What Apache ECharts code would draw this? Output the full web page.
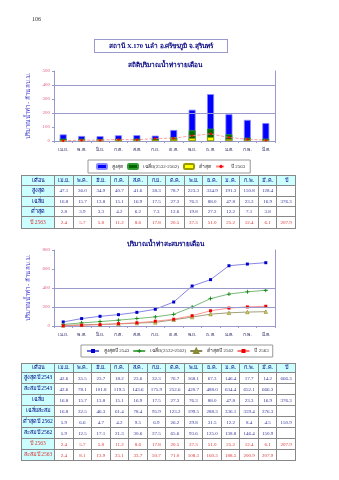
<!DOCTYPE html>
<html><head><meta charset="utf-8">
<script src="https://cdn.jsdelivr.net/npm/echarts@6/dist/echarts.min.js"></script>
<style>
html,body{margin:0;padding:0;background:#fff;width:339px;height:480px;overflow:hidden;font-family:"Liberation Serif","DejaVu Serif",serif;}
#chart{position:absolute;left:0;top:0;width:339px;height:480px;}
.abs{position:absolute;white-space:nowrap;}
table.t{position:absolute;left:21px;border-collapse:collapse;table-layout:fixed;width:274px;}
table.t td{border:1px solid #888;padding:0;text-align:center;font-size:5px;line-height:1;overflow:hidden;white-space:nowrap;color:#333399;}
table.t td.h{background:#ccffff;color:#000080;font-size:5.5px;}
table.t td.r{color:#dd3333;}
</style>
</head><body>
<div id="chart"></div>
<div class="abs" style="left:32px;top:16px;font-size:6px;color:#333;">106</div>
<div class="abs" style="left:94px;top:39px;width:132px;height:12px;border:1px solid #9999cc;text-align:center;font-size:6.5px;line-height:12px;font-weight:bold;color:#000080;">สถานี X.170 น.ลำ อ.ศรีขรภูมิ จ.สุรินทร์</div>
<table class="t" id="t1" style="top:175px;"></table>
<table class="t" id="t2" style="top:363px;"></table>
<script>
var months = ['เม.ย.','พ.ค.','มิ.ย.','ก.ค.','ส.ค.','ก.ย.','ต.ค.','พ.ย.','ธ.ค.','ม.ค.','ก.พ.','มี.ค.'];
var maxMonthly = [47.1,36.0,34.9,40.7,41.6,38.3,78.7,223.3,334.9,191.3,150.8,128.4];
var avgMonthly = [16.8,15.7,13.8,15.1,16.9,17.5,27.3,76.3,88.0,47.8,23.3,16.9];
var minMonthly = [2.8,3.9,3.3,4.2,6.2,7.3,12.6,19.8,27.2,12.2,7.1,3.8];
var y2563Monthly = [2.4,5.7,5.8,11.2,8.6,17.8,20.5,37.3,51.0,25.2,12.4,6.1];
var y2543Monthly = [42.6,35.5,23.7,18.2,23.6,32.3,76.7,168.1,67.3,146.4,17.7,14.2];
var cum2543 = [42.6,78.1,101.8,119.5,143.6,175.9,252.6,420.7,488.0,634.4,652.1,666.3];
var avgCum = [16.8,32.5,46.3,61.4,78.4,95.9,123.2,199.5,288.3,336.1,359.4,376.3];
var y2562Monthly = [5.9,6.6,4.7,4.2,9.5,6.9,26.2,29.8,31.5,12.2,8.4,4.5];
var cum2562 = [5.9,12.5,17.1,21.3,30.6,37.5,65.6,93.6,125.0,138.8,146.4,150.9];
var cum2563 = [2.4,8.1,13.9,25.1,33.7,50.7,71.0,108.3,160.3,188.5,200.9,207.9];
var totalAvg = 376.3, total2563 = 207.9, total2543 = 666.3, total2562 = 150.9;

function buildTable(id, rows, headH, rowHs){
  var html = '<colgroup><col style="width:33px">';
  for (var i=0;i<13;i++) html += '<col style="width:18.54px">';
  html += '</colgroup>';
  html += '<tr style="height:'+headH+'px"><td class="h">เดือน</td>';
  months.forEach(function(m){ html += '<td class="h">'+m+'</td>'; });
  html += '<td class="h">ปี</td></tr>';
  rows.forEach(function(r, k){
    var cls = r[3] ? ' r' : '';
    html += '<tr style="height:'+rowHs[k]+'px"><td class="h'+cls+'">'+r[0]+'</td>';
    r[1].forEach(function(v){ html += '<td class="'+cls+'">'+v.toFixed(1)+'</td>'; });
    html += '<td class="'+cls+'">'+(r[2]===''?'':r[2].toFixed(1))+'</td></tr>';
  });
  document.getElementById(id).innerHTML = html;
}
buildTable('t1', [
  ['สูงสุด', maxMonthly, ''],
  ['เฉลี่ย', avgMonthly, totalAvg],
  ['ต่ำสุด', minMonthly, ''],
  ['ปี 2563', y2563Monthly, total2563, true]
], 10, [10.5,10.5,9.5,12.5]);
buildTable('t2', [
  ['สูงสุดปี 2543', y2543Monthly, total2543],
  ['สะสมปี 2543', cum2543, ''],
  ['เฉลี่ย', avgMonthly, totalAvg],
  ['เฉลี่ยสะสม', avgCum, ''],
  ['ต่ำสุดปี 2562', y2562Monthly, total2562],
  ['สะสมปี 2562', cum2562, ''],
  ['ปี 2563', y2563Monthly, total2563, true],
  ['สะสมปี 2563', cum2563, '', true]
], 9, [11,11,11,11,11,11,11,11]);

var FF = '"Liberation Serif","DejaVu Serif",serif';
var gridLine = '#9999cc';
var plusPath = 'path://M4,0H6V4H10V6H6V10H4V6H0V4H4Z';
var legendNames = {'avgCum':'เฉลี่ย(2532-2562)', 'cum2563':'ปี 2563'};
function yAxisMain(g, max, interval){
  return {gridIndex:g, type:'value', min:0, max:max, interval:interval,
    axisLine:{show:true, lineStyle:{color:gridLine, width:1}},
    axisTick:{show:true, length:2, lineStyle:{color:gridLine}},
    axisLabel:{fontSize:5, color:'#e0607f', margin:4, fontFamily:FF},
    splitLine:{show:false},
    name:'ปริมาณน้ำท่า - ล้าน ลบ.ม.', nameLocation:'middle', nameGap:15, nameRotate:90,
    nameTextStyle:{fontSize:6, color:'#3333cc', fontFamily:FF}};
}
function yAxisRight(g, max){
  return {gridIndex:g, type:'value', min:0, max:max, position:'right',
    axisLine:{show:true, lineStyle:{color:gridLine, width:1}},
    axisTick:{show:false}, axisLabel:{show:false}, splitLine:{show:false}};
}
function xAxisCat(g){
  return {gridIndex:g, type:'category', data:months, boundaryGap:true,
    axisLine:{show:true, lineStyle:{color:gridLine, width:1}},
    axisTick:{show:true, length:2, lineStyle:{color:gridLine}},
    axisLabel:{fontSize:5, color:'#333366', margin:6, interval:0, fontFamily:FF}};
}
var mk = {silent:true, symbol:'none', label:{show:false}, lineStyle:{color:gridLine, type:'solid', width:1},
  data:[{yAxis:200},{yAxis:400}]};

var chart = echarts.init(document.getElementById('chart'), null, {renderer:'canvas'});
chart.setOption({
  animation:false,
  textStyle:{fontFamily:FF},
  title:[
    {text:'สถิติปริมาณน้ำท่ารายเดือน', left:160, top:57, textAlign:'center',
     textStyle:{fontSize:6.5, fontWeight:'bold', color:'#000080', fontFamily:FF}},
    {text:'ปริมาณน้ำท่าสะสมรายเดือน', left:160, top:236, textAlign:'center',
     textStyle:{fontSize:6.5, fontWeight:'bold', color:'#000080', fontFamily:FF}}
  ],
  grid:[{left:54, top:71, width:221, height:70}, {left:54, top:250, width:221, height:76}],
  xAxis:[xAxisCat(0), xAxisCat(1)],
  yAxis:[yAxisMain(0,500,100), yAxisRight(0,500), yAxisMain(1,800,200), yAxisRight(1,800)],
  legend:[
    {data:['สูงสุด','เฉลี่ย(2532-2562)','ต่ำสุด','ปี 2563'], left:88, top:160, orient:'horizontal',
     itemWidth:10, itemHeight:5, itemGap:4, padding:[3,5,3,8], borderColor:'#999', borderWidth:1,
     textStyle:{fontSize:5, color:'#333', fontFamily:FF}},
    {data:['สูงสุดปี 2543','avgCum','ต่ำสุดปี 2562','cum2563'], left:81, top:345, orient:'horizontal',
     itemWidth:12, itemHeight:5, itemGap:3, padding:[3,4,3,5], borderColor:'#999', borderWidth:1,
     formatter:function(n){return legendNames[n]||n;},
     textStyle:{fontSize:5, color:'#333', fontFamily:FF}}
  ],
  series:[
    {name:'สูงสุด', type:'bar', xAxisIndex:0, yAxisIndex:0, data:maxMonthly, barWidth:7, barGap:'-100%',
     itemStyle:{color:'#0000ff', borderColor:'#8888ff', borderWidth:0.8}, markLine:mk, z:2},
    {name:'เฉลี่ย(2532-2562)', type:'bar', xAxisIndex:0, yAxisIndex:0, data:avgMonthly, barWidth:7, barGap:'-100%',
     itemStyle:{color:'#006600', borderColor:'#339933', borderWidth:0.8}, z:3},
    {name:'ต่ำสุด', type:'bar', xAxisIndex:0, yAxisIndex:0, data:minMonthly, barWidth:7, barGap:'-100%',
     itemStyle:{color:'#ffff00', borderColor:'#999900', borderWidth:0.8}, z:4},
    {name:'ปี 2563', type:'line', xAxisIndex:0, yAxisIndex:0, data:y2563Monthly, symbol:'diamond', symbolSize:3,
     itemStyle:{color:'#ff0000'}, lineStyle:{color:'#ff8888', width:0.8, type:'dashed'}, z:5},
    {name:'สูงสุดปี 2543', type:'line', xAxisIndex:1, yAxisIndex:2, data:cum2543, symbol:'rect', symbolSize:3,
     itemStyle:{color:'#0000cc'}, lineStyle:{color:'#6666dd', width:0.8}, markLine:mk},
    {name:'avgCum', type:'line', xAxisIndex:1, yAxisIndex:2, data:avgCum, symbol:plusPath, symbolSize:4,
     itemStyle:{color:'#008000'}, lineStyle:{color:'#55aa55', width:0.8}},
    {name:'ต่ำสุดปี 2562', type:'line', xAxisIndex:1, yAxisIndex:2, data:cum2562, symbol:'triangle', symbolSize:3.5,
     itemStyle:{color:'#ddcc55', borderColor:'#888833', borderWidth:0.6}, lineStyle:{color:'#888855', width:0.8}},
    {name:'cum2563', type:'line', xAxisIndex:1, yAxisIndex:2, data:cum2563, symbol:'rect', symbolSize:3,
     itemStyle:{color:'#ee0000'}, lineStyle:{color:'#ff7777', width:0.8}}
  ]
});
</script>
</body></html>
